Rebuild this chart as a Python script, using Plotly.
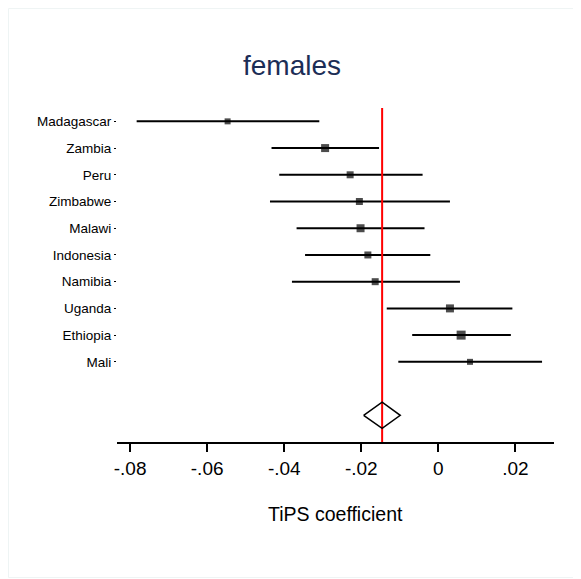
import plotly.graph_objects as go

countries = ["Madagascar", "Zambia", "Peru", "Zimbabwe", "Malawi",
             "Indonesia", "Namibia", "Uganda", "Ethiopia", "Mali"]
estimate = [-0.0547, -0.0294, -0.0229, -0.0205, -0.0202,
            -0.0183, -0.0164, 0.0030, 0.0059, 0.0082]
ci_low = [-0.0783, -0.0433, -0.0413, -0.0437, -0.0368,
          -0.0346, -0.0380, -0.0134, -0.0068, -0.0104]
ci_high = [-0.0309, -0.0154, -0.0041, 0.0030, -0.0036,
           -0.0021, 0.0056, 0.0192, 0.0188, 0.0269]
weights = [6, 8, 7, 7, 8, 7, 7, 8, 9, 6]

overall_est = -0.0146
overall_low = -0.0194
overall_high = -0.0099

xtick_vals = [-0.08, -0.06, -0.04, -0.02, 0.0, 0.02]
xtick_text = ["-.08", "-.06", "-.04", "-.02", "0", ".02"]

rows = list(range(1, len(countries) + 1))
overall_row = len(countries) + 2

FONT = "Arial, Liberation Sans, sans-serif"
W, H = 573, 571  # page body adds an 8px offset

fig = go.Figure()

# confidence intervals
cx, cy = [], []
for lo, hi, r in zip(ci_low, ci_high, rows):
    cx += [lo, hi, None]
    cy += [r, r, None]
fig.add_trace(go.Scatter(x=cx, y=cy, mode="lines",
                         line=dict(color="black", width=2),
                         hoverinfo="skip", showlegend=False))

# point estimates
fig.add_trace(go.Scatter(x=estimate, y=rows, mode="markers",
                         marker=dict(symbol="square", size=weights, color="black",
                                     line=dict(width=0)),
                         showlegend=False))

# overall effect line
fig.add_trace(go.Scatter(x=[overall_est, overall_est], y=[0.5, overall_row + 1],
                         mode="lines", line=dict(color="red", width=2),
                         showlegend=False, hoverinfo="skip"))

# diamond
fig.add_trace(go.Scatter(
    x=[overall_low, overall_est, overall_high, overall_est, overall_low],
    y=[overall_row, overall_row - 0.49, overall_row, overall_row + 0.49, overall_row],
    mode="lines", line=dict(color="black", width=1.5),
    showlegend=False, hoverinfo="skip"))

fig.update_layout(
    width=W, height=H,
    margin=dict(l=109, r=27, t=100, b=137),
    paper_bgcolor="white", plot_bgcolor="white",
    font=dict(family=FONT, color="black"),
    title=dict(text="females", x=(292 - 8) / W, xref="container", xanchor="center",
               y=1 - 57 / H, yanchor="middle",
               font=dict(size=28, color="#1c2d56", family=FONT)),
    showlegend=False,
)

fig.update_xaxes(range=[-0.0834, 0.0300], showgrid=False, zeroline=False,
                 showline=True, linecolor="black", linewidth=1.5,
                 ticks="outside", ticklen=8, tickwidth=1.5, tickcolor="black",
                 tickvals=xtick_vals, ticktext=xtick_text,
                 tickfont=dict(size=19, family=FONT, color="black"))

fig.update_yaxes(range=[overall_row + 1, 0.5], showgrid=False, zeroline=False,
                 showline=False, ticks="outside", ticklen=2, tickwidth=1,
                 tickcolor="black", tickvals=rows, ticktext=countries,
                 tickfont=dict(size=13.5, family=FONT, color="black"))

fig.add_annotation(text="TiPS coefficient", xref="paper", yref="paper",
                   x=0.5, y=(442.3 - 514) / 334.3, xanchor="center", yanchor="middle",
                   showarrow=False, font=dict(size=19.5, family=FONT, color="black"))

# faint outer frame
fig.add_shape(type="rect", xref="paper", yref="paper",
              x0=(8.5 - 117) / 437, x1=(580 - 117) / 437,
              y0=(442.3 - 578) / 334.3, y1=(442.3 - 8.5) / 334.3,
              line=dict(color="#eef4f4", width=1), layer="below")

fig.write_html("out.html")
